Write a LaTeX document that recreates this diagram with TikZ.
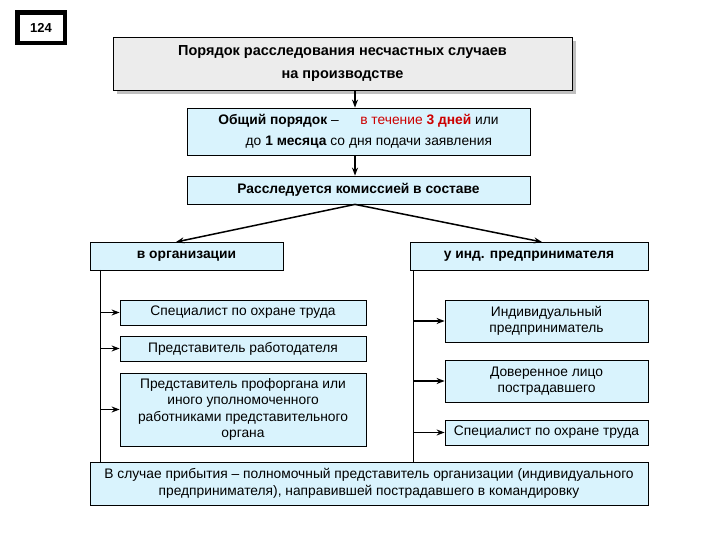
\documentclass[tikz,border=0pt]{standalone}
\usepackage{fontspec}
\setmainfont{Liberation Sans}
\usetikzlibrary{arrows.meta}
\begin{document}
\begin{tikzpicture}[x=1pt,y=1pt,
  bx/.style={draw=black,line width=0.8pt,fill=cyan!15,inner sep=1pt,align=center,font=\fontsize{13.8}{16.5}\selectfont},
  arr/.style={-{Stealth[length=8pt,width=6pt]},line width=1.5pt},
  ln/.style={line width=1pt}]
\useasboundingbox (0,0) rectangle (720,540);
\fill[black] (15,530) rectangle (67,495);
\node[draw=white,fill=white,minimum width=42,minimum height=25,inner sep=0pt,font=\fontsize{13}{15}\selectfont\bfseries] (num) at (41,512.5) {124};
\fill[gray!50] (117,499) rectangle (576,446);
\node[draw=black,line width=0.8pt,fill=gray!15,minimum width=459,minimum height=53,align=center,font=\fontsize{14.5}{23}\selectfont\bfseries] (t) at (342.5,476.5) {Порядок расследования несчастных случаев\\на производстве};
\node[bx,minimum width=343,minimum height=47,font=\fontsize{13.8}{21}\selectfont] (g) at (358.5,408.5) {\textbf{Общий порядок} --\quad\ \ \textcolor{red!80!black}{в течение \textbf{3 дней}} или\\\hspace*{1.5em}до \textbf{1 месяца} со дня подачи заявления};
\node[bx,minimum width=343,minimum height=28,font=\fontsize{13.8}{16}\selectfont\bfseries] (c) at (358.5,350) {Расследуется комиссией в составе};
\node[bx,minimum width=193,minimum height=28,font=\fontsize{13.8}{16}\selectfont\bfseries] (L) at (186.5,284) {в организации};
\node[bx,minimum width=238,minimum height=28,font=\fontsize{13.8}{16}\selectfont\bfseries] (R) at (529,284) {у инд. предпринимателя};
\draw[arr] (t.south -| 355,0) -- (g.north -| 355,0);
\draw[arr] (g.south -| 355,0) -- (c.north -| 355,0);
\draw[arr] (c.south -| 355,0) -- (176,298);
\draw[arr] (c.south -| 355,0) -- (542,298);
\node[bx,minimum width=246,minimum height=25] (l1) at (243,227.5) {Специалист по охране труда};
\node[bx,minimum width=246,minimum height=25] (l2) at (243,191.5) {Представитель работодателя};
\node[bx,minimum width=246,minimum height=73] (l3) at (243,130.5) {Представитель профоргана или\\иного уполномоченного\\работниками представительного\\органа};
\node[bx,minimum width=203,minimum height=42] (r1) at (546.5,219) {Индивидуальный\\предприниматель};
\node[bx,minimum width=203,minimum height=42] (r2) at (546.5,159) {Доверенное лицо\\пострадавшего};
\node[bx,minimum width=203,minimum height=25] (r3) at (546.5,107.5) {Специалист по охране труда};
\coordinate (lt) at (100,270); \coordinate (lb) at (100,78);
\coordinate (rt) at (413,270); \coordinate (rb) at (413,78);
\draw[ln] (lt) -- (lb); \draw[ln] (rt) -- (rb);
\foreach \n in {l1,l2,l3} \draw[arr] (lt |- \n.west) -- (\n.west);
\foreach \n in {r1,r2,r3} \draw[arr] (rt |- \n.west) -- (\n.west);
\node[bx,minimum width=558,minimum height=43] (b) at (369,56.5) {В случае прибытия -- полномочный представитель организации (индивидуального\\предпринимателя), направившей пострадавшего в командировку};
\end{tikzpicture}
\end{document}
